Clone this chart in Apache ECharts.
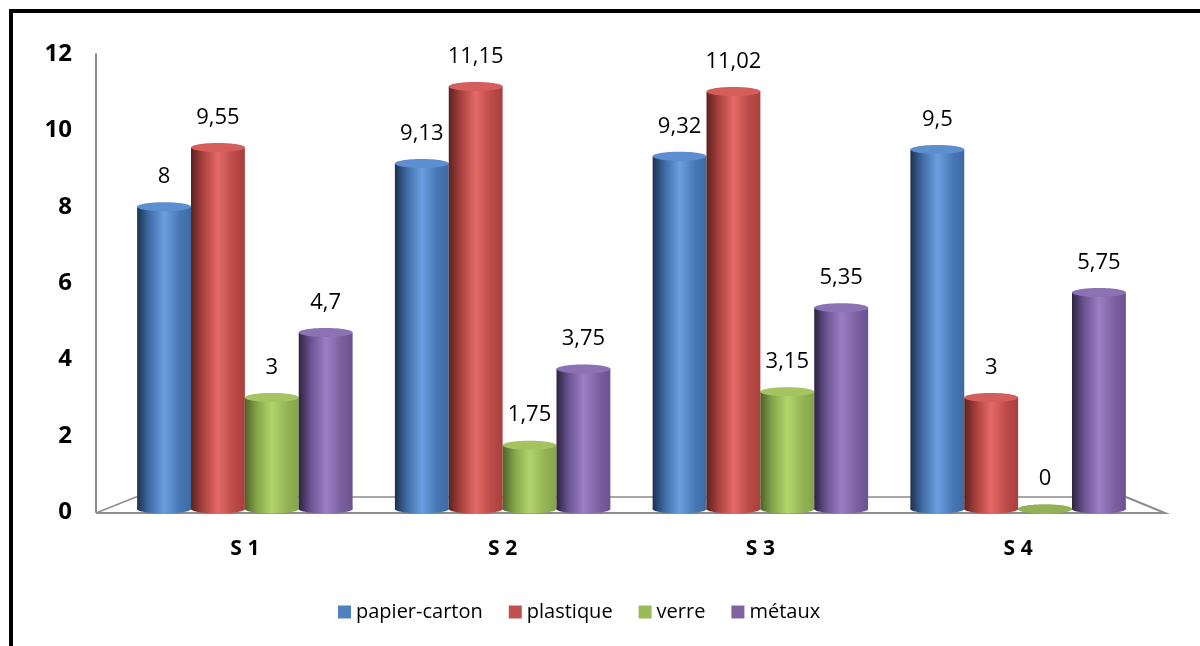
<!DOCTYPE html>
<html>
<head>
<meta charset="utf-8">
<title>Déchets par site</title>
<script src="https://cdn.jsdelivr.net/npm/echarts@6/dist/echarts.min.js"></script>
<style>
  html, body { margin: 0; padding: 0; background: #fff; }
  #chart { width: 1200px; height: 646px; }
</style>
</head>
<body>
<div id="chart"></div>
<script>
// Site labels and quantities per material
const categories = ['S 1', 'S 2', 'S 3', 'S 4'];
const papierCarton = [8, 9.13, 9.32, 9.5];
const plastique = [9.55, 11.15, 11.02, 3];
const verre = [3, 1.75, 3.15, 0];
const metaux = [4.7, 3.75, 5.35, 5.75];
const seriesNames = ['papier-carton', 'plastique', 'verre', 'métaux'];
const yTicks = [0, 2, 4, 6, 8, 10, 12];

const seriesValues = [papierCarton, plastique, verre, metaux];

// Cylinder shading: dark left edge, highlight, medium right edge
const palettes = [
  { flat: '#4F81BD', dark: '#1d3150', mid: '#3f6aa3', light: '#6b9fe0', right: '#4676b3', cap: '#5d8ed0' },
  { flat: '#C0504D', dark: '#5c2220', mid: '#a8403d', light: '#e46a67', right: '#b94a47', cap: '#d45e5b' },
  { flat: '#9BBB59', dark: '#4d6228', mid: '#85a44a', light: '#b2d46c', right: '#93b255', cap: '#a4c462' },
  { flat: '#8064A2', dark: '#2c2340', mid: '#6a5290', light: '#9a7fc4', right: '#7a5f9f', cap: '#8c71b3' }
];

function bodyGradient(p) {
  return new echarts.graphic.LinearGradient(0, 0, 1, 0, [
    { offset: 0, color: p.dark },
    { offset: 0.22, color: p.mid },
    { offset: 0.5, color: p.light },
    { offset: 0.8, color: p.right },
    { offset: 1, color: p.mid }
  ]);
}

function fmt(v) {
  return String(v).replace('.', ',');
}

function makeRenderer(idx) {
  const p = palettes[idx];
  return function (params, api) {
    const ci = api.value(0);
    const v = api.value(1);
    const top = api.coord([ci, v]);
    const base = api.coord([ci, 0]);
    const catW = api.size([1, 0])[0];
    const bw = catW * 0.209;
    const cx = top[0] + (idx - 1.5) * bw;
    const ry = 4.5;
    const baseY = base[1] - 3;
    const topY = Math.min(top[1], baseY);
    const children = [];
    // bottom cap
    children.push({
      type: 'ellipse',
      shape: { cx: cx, cy: baseY, rx: bw / 2, ry: ry },
      style: { fill: bodyGradient(p) }
    });
    if (baseY - topY > 0.5) {
      children.push({
        type: 'rect',
        shape: { x: cx - bw / 2, y: topY, width: bw, height: baseY - topY },
        style: { fill: bodyGradient(p) }
      });
    }
    // top cap
    children.push({
      type: 'ellipse',
      shape: { cx: cx, cy: topY, rx: bw / 2, ry: ry },
      style: { fill: v === 0 ? p.right : p.cap }
    });
    // value label
    children.push({
      type: 'text',
      style: {
        x: cx, y: topY - 30,
        text: fmt(v),
        align: 'center', verticalAlign: 'middle',
        fontFamily: 'Open Sans', fontSize: 22, fill: '#000'
      }
    });
    return { type: 'group', children: children };
  };
}

const series = seriesNames.map(function (name, i) {
  return {
    name: name,
    type: 'custom',
    renderItem: makeRenderer(i),
    encode: { x: 0, y: 1 },
    itemStyle: { color: palettes[i].flat },
    data: seriesValues[i].map(function (v, c) { return [c, v]; }),
    z: 3
  };
});

const chart = echarts.init(document.getElementById('chart'), null, { renderer: 'canvas' });

chart.setOption({
  animation: false,
  backgroundColor: '#fff',
  grid: { left: 116, right: 53, top: 54, bottom: 134 },
  legend: {
    data: seriesNames,
    left: 333,
    top: 597,
    icon: 'rect',
    itemWidth: 13,
    itemHeight: 13,
    itemGap: 26,
    textStyle: { fontFamily: 'Open Sans', fontSize: 20, color: '#000' }
  },
  xAxis: {
    type: 'category',
    data: categories,
    axisLine: { show: false },
    axisTick: { show: false },
    axisLabel: {
      margin: 27,
      fontFamily: 'Open Sans', fontWeight: 'bold', fontSize: 21, color: '#000'
    }
  },
  yAxis: {
    type: 'value',
    min: yTicks[0],
    max: yTicks[yTicks.length - 1],
    interval: 2,
    offset: 20,
    axisLine: { show: true, lineStyle: { color: '#8c8c8c', width: 2 } },
    axisTick: { show: false },
    splitLine: { show: false },
    axisLabel: {
      margin: 24,
      fontFamily: 'Open Sans', fontWeight: 'bold', fontSize: 24, color: '#000'
    }
  },
  graphic: [
    // outer frame (top and left edges visible)
    { type: 'rect', shape: { x: 11, y: 11, width: 1300, height: 1000 },
      style: { fill: 'none', stroke: '#000', lineWidth: 4 }, z: 10 },
    // 3D floor
    { type: 'polyline', shape: { points: [[96, 513], [1165, 513], [1126, 497]] },
      style: { stroke: '#8c8c8c', lineWidth: 2, fill: 'none' }, z: 1 },
    { type: 'polyline', shape: { points: [[96, 513], [136, 497], [1126, 497]] },
      style: { stroke: '#8c8c8c', lineWidth: 1.5, fill: 'none' }, z: 1 }
  ],
  series: series
});
</script>
</body>
</html>
